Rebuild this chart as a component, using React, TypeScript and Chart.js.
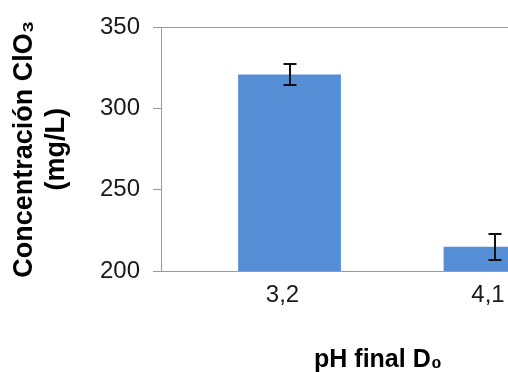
import React, { useEffect, useRef } from "react";
import { Chart, registerables } from "chart.js";

Chart.register(...registerables);

const categories = ["3,2", "4,1"];
const concentration = [321, 215];
const errors = [6.5, 8];
const yMin = 200;
const yMax = 350;
const yStep = 50;
const yTitle = ["Concentración ClO₃", "(mg/L)"];
const xTitle = "pH final D₀";

const FONT = "'Liberation Sans', Arial, sans-serif";
const AXIS_GRAY = "#9a9a9a";

const errorBarPlugin = {
  id: "errorBars",
  afterDatasetsDraw(chart: any) {
    const { ctx, scales } = chart;
    const x = scales.x;
    const y = scales.y;
    ctx.save();
    ctx.strokeStyle = "#111111";
    ctx.lineWidth = 2;
    concentration.forEach((v, i) => {
      const px = Math.round(x.getPixelForValue(i));
      const top = Math.round(y.getPixelForValue(v + errors[i]));
      const bot = Math.round(y.getPixelForValue(v - errors[i]));
      const cap = 6.5;
      ctx.beginPath();
      ctx.moveTo(px, top);
      ctx.lineTo(px, bot);
      ctx.moveTo(px - cap, top);
      ctx.lineTo(px + cap, top);
      ctx.moveTo(px - cap, bot);
      ctx.lineTo(px + cap, bot);
      ctx.stroke();
    });
    ctx.restore();
  },
};

export default function App() {
  const canvasRef = useRef<HTMLCanvasElement | null>(null);

  useEffect(() => {
    if (!canvasRef.current) return;
    const chart = new Chart(canvasRef.current, {
      type: "bar",
      data: {
        datasets: [
          {
            label: "Concentración",
            data: concentration.map((v, i) => ({ x: i, y: v })),
            backgroundColor: "#558ED5",
            borderWidth: 0,
            barPercentage: 0.5,
            categoryPercentage: 1,
          },
        ],
      },
      options: {
        animation: false,
        responsive: false,
        devicePixelRatio: 1,
        layout: { padding: { top: 25, right: 5, left: 0, bottom: 0 } },
        plugins: {
          legend: { display: false },
          tooltip: { enabled: false },
        },
        scales: {
          x: {
            type: "linear",
            min: -0.6253,
            max: 1.4866,
            offset: false,
            afterBuildTicks: (s: any) => {
              s.ticks = categories.map((_, i) => ({ value: i }));
            },
            afterFit: (s: any) => {
              s.height = 101;
            },
            grid: { display: false, drawTicks: false },
            border: { display: true, color: AXIS_GRAY, width: 1 },
            ticks: {
              autoSkip: false,
              maxRotation: 0,
              padding: 10,
              labelOffset: -7,
              color: "#1a1a1a",
              font: { family: FONT, size: 24 },
              callback: (v: any) => categories[v] ?? "",
            },
            title: {
              display: true,
              text: xTitle,
              color: "#000000",
              font: { family: FONT, size: 25, weight: "bold", lineHeight: 1 },
              padding: { top: 0, bottom: -1 },
            },
          },
          y: {
            min: yMin,
            max: yMax,
            afterFit: (s: any) => {
              s.width = 161;
            },
            grid: {
              color: (c: any) =>
                c.tick && c.tick.value === yMax ? AXIS_GRAY : "rgba(0,0,0,0)",
              tickColor: AXIS_GRAY,
              tickLength: 8,
              drawOnChartArea: true,
            },
            border: { display: true, color: AXIS_GRAY, width: 1 },
            ticks: {
              stepSize: yStep,
              padding: 13,
              color: "#1a1a1a",
              font: { family: FONT, size: 24 },
            },
            title: {
              display: true,
              text: yTitle,
              color: "#000000",
              font: { family: FONT, size: 27, weight: "bold", lineHeight: 1.2 },
              padding: { top: 8, bottom: 0 },
            },
          },
        },
      } as any,
      plugins: [errorBarPlugin],
    });
    return () => chart.destroy();
  }, []);

  return (
    <div
      style={{
        position: "absolute",
        left: 0,
        top: 0,
        width: 508,
        height: 372,
        overflow: "hidden",
        background: "#ffffff",
      }}
    >
      <canvas ref={canvasRef} width={600} height={372} style={{ display: "block" }} />
    </div>
  );
}
